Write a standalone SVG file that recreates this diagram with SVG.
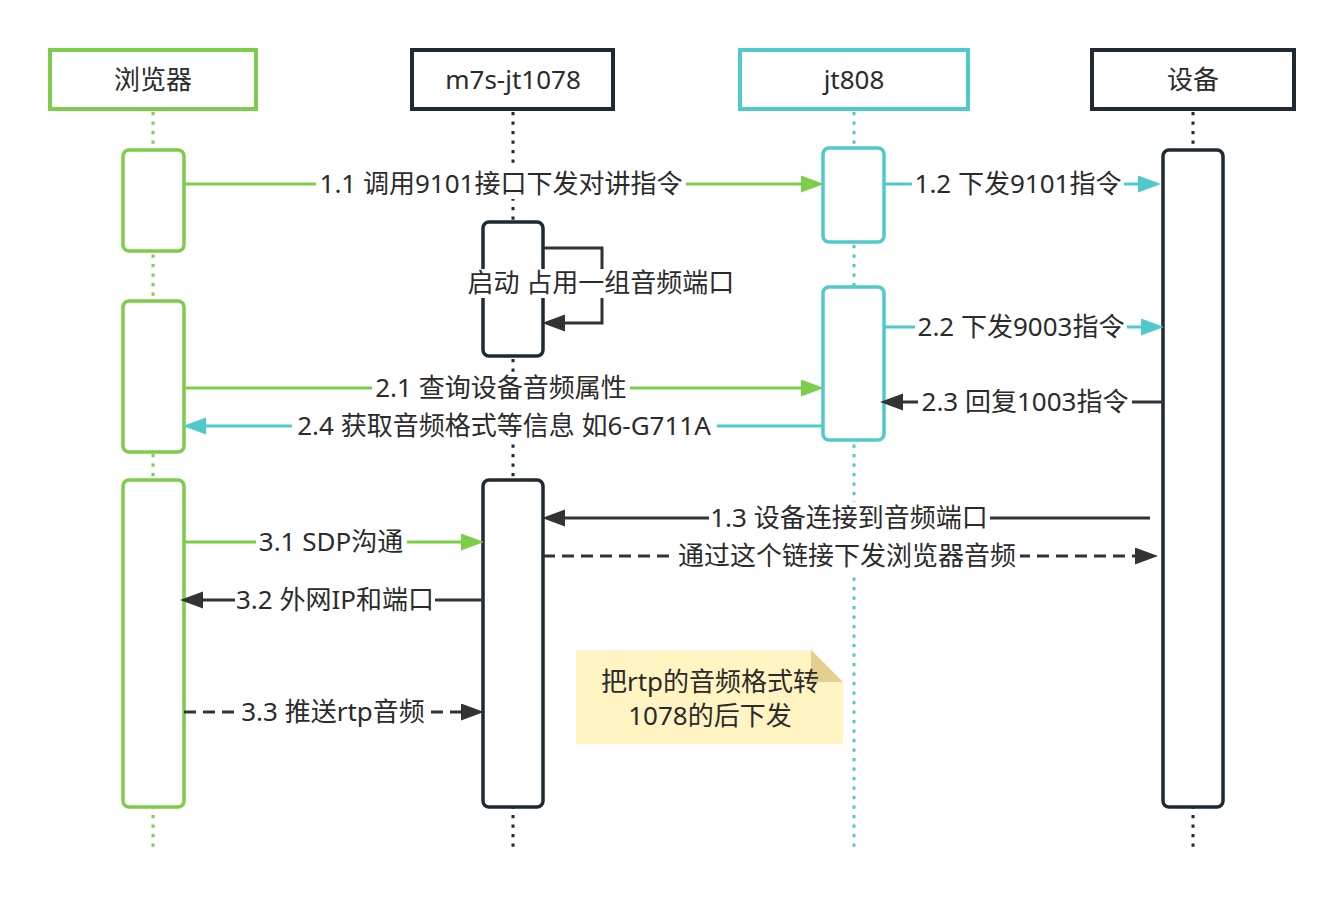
<svg xmlns="http://www.w3.org/2000/svg" width="1344" height="902" viewBox="0 0 1344 902">
<style>
text{font-family:"Noto Sans","Noto Sans CJK SC",sans-serif;font-size:26px;fill:#2b2b2b;text-anchor:middle}
.bg{fill:#fff}
.hdr{fill:#fff;stroke-width:4}
.act{fill:#fff;stroke-width:3.5}
.life{stroke-width:3;stroke-dasharray:3.3 6.2;fill:none}
.g{stroke:#7ccd4a}
.c{stroke:#4fc9cc}
.d{stroke:#1f2a33}
.m{fill:none;stroke-width:3}
.mg{stroke:#7ccd4a}
.mc{stroke:#4fc9cc}
.md{stroke:#333}
.dash{stroke-dasharray:12 7}
</style>
<defs>
<marker id="ag" markerUnits="userSpaceOnUse" markerWidth="24" markerHeight="18" refX="12" refY="8.5" orient="auto"><path d="M0,0L23,8.5L0,17z" fill="#7ccd4a"/></marker>
<marker id="ac" markerUnits="userSpaceOnUse" markerWidth="24" markerHeight="18" refX="12" refY="8.5" orient="auto"><path d="M0,0L23,8.5L0,17z" fill="#4fc9cc"/></marker>
<marker id="ad" markerUnits="userSpaceOnUse" markerWidth="24" markerHeight="18" refX="12" refY="8.5" orient="auto"><path d="M0,0L23,8.5L0,17z" fill="#333"/></marker>
</defs>
<rect width="1344" height="902" fill="#fff"/>

<g id="lifelines">
<line class="life g" x1="153" y1="112" x2="153" y2="852"/>
<line class="life d" x1="513" y1="112" x2="513" y2="852"/>
<line class="life c" x1="854" y1="112" x2="854" y2="852"/>
<line class="life d" x1="1193" y1="112" x2="1193" y2="852"/>
</g>

<g id="browser">
<rect class="hdr g" x="50" y="50" width="206" height="59"/>
<text x="153" y="89">浏览器</text>
<rect class="act g" x="123" y="150" width="61" height="101" rx="6"/>
<rect class="act g" x="123" y="301" width="61" height="151" rx="6"/>
<rect class="act g" x="123" y="480" width="61" height="327" rx="6"/>
</g>

<g id="m7s">
<rect class="hdr d" x="412" y="50" width="201" height="59"/>
<text x="513" y="89">m7s-jt1078</text>
<rect class="act d" x="483" y="222" width="60" height="134" rx="6"/>
<rect class="act d" x="483" y="480" width="60" height="327" rx="6"/>
</g>

<g id="jt808">
<rect class="hdr c" x="740" y="50" width="228" height="59"/>
<text x="854" y="89">jt808</text>
<rect class="act c" x="823" y="148" width="61" height="94" rx="6"/>
<rect class="act c" x="823" y="287" width="61" height="153" rx="6"/>
</g>

<g id="device">
<rect class="hdr d" x="1092" y="50" width="202" height="59"/>
<text x="1193" y="89">设备</text>
<rect class="act d" x="1163" y="150" width="60" height="657" rx="6"/>
</g>

<g id="note">
<path d="M576,650H811L843,682V744H576z" fill="#fff4c2"/>
<path d="M811,650L843,682H811z" fill="#e3d08e"/>
<text x="710" y="691">把rtp的音频格式转</text>
<text x="710" y="725">1078的后下发</text>
</g>

<g id="connectors">
<line class="m mg" x1="184" y1="184" x2="813" y2="184" marker-end="url(#ag)"/>
<rect class="bg" x="316" y="169" width="370" height="30"/>
<text x="501" y="193">1.1 调用9101接口下发对讲指令</text>

<line class="m mc" x1="884" y1="184" x2="1150" y2="184" marker-end="url(#ac)"/>
<rect class="bg" x="912" y="171" width="212" height="26"/>
<text x="1018" y="193">1.2 下发9101指令</text>

<polyline class="m md" points="543,248 602,248 602,323 553,323" marker-end="url(#ad)"/>
<rect class="bg" x="466" y="269" width="271" height="29"/>
<text x="601" y="292">启动 占用一组音频端口</text>

<line class="m mc" x1="884" y1="327" x2="1153" y2="327" marker-end="url(#ac)"/>
<rect class="bg" x="915" y="314" width="212" height="26"/>
<text x="1021" y="336">2.2 下发9003指令</text>

<line class="m mg" x1="184" y1="388" x2="813" y2="388" marker-end="url(#ag)"/>
<rect class="bg" x="372" y="372" width="258" height="34"/>
<text x="501" y="397">2.1 查询设备音频属性</text>

<line class="m md" x1="1163" y1="402" x2="891" y2="402" marker-end="url(#ad)"/>
<rect class="bg" x="918" y="389" width="214" height="26"/>
<text x="1025" y="411">2.3 回复1003指令</text>

<line class="m mc" x1="823" y1="426" x2="194" y2="426" marker-end="url(#ac)"/>
<rect class="bg" x="292" y="406" width="425" height="36"/>
<text x="504" y="435">2.4 获取音频格式等信息 如6-G711A</text>

<line class="m md" x1="1150" y1="518" x2="553" y2="518" marker-end="url(#ad)"/>
<rect class="bg" x="709" y="502" width="281" height="34"/>
<text x="849" y="527">1.3 设备连接到音频端口</text>

<line class="m md dash" x1="543" y1="556" x2="1147" y2="556" marker-end="url(#ad)"/>
<rect class="bg" x="674" y="536" width="346" height="36"/>
<text x="847" y="565">通过这个链接下发浏览器音频</text>

<line class="m mg" x1="184" y1="542" x2="473" y2="542" marker-end="url(#ag)"/>
<rect class="bg" x="256" y="529" width="151" height="26"/>
<text x="331" y="551">3.1 SDP沟通</text>

<line class="m md" x1="483" y1="600" x2="191" y2="600" marker-end="url(#ad)"/>
<rect class="bg" x="235" y="587" width="200" height="26"/>
<text x="335" y="609">3.2 外网IP和端口</text>

<line class="m md dash" x1="184" y1="712" x2="473" y2="712" marker-end="url(#ad)"/>
<rect class="bg" x="236" y="699" width="194" height="26"/>
<text x="333" y="721">3.3 推送rtp音频</text>
</g>
</svg>
